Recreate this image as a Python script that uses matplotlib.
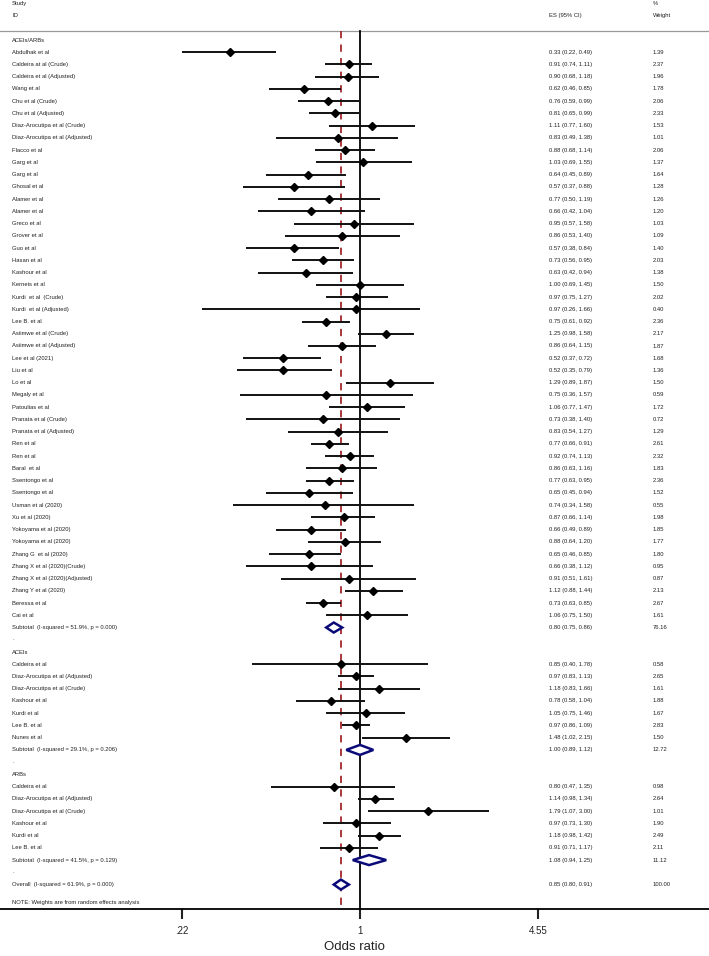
import numpy as np
import matplotlib
matplotlib.use("Agg")
import matplotlib.pyplot as plt
from matplotlib.patches import Polygon
import matplotlib.transforms as mtransforms

plt.rcParams['font.family'] = ['Liberation Sans', 'DejaVu Sans']

# ---- data ----
group_names = ["ACEIs/ARBs", "ACEIs", "ARBs"]

studies_all = ["Abdulhak et al", "Caldeira at al (Crude)", "Caldeira et al (Adjusted)", "Wang et al",
               "Chu et al (Crude)", "Chu et al (Adjusted)", "Diaz-Arocutipa et al (Crude)",
               "Diaz-Arocutipa et al (Adjusted)", "Flacco et al", "Garg et al", "Garg et al",
               "Ghosal et al", "Alamer et al", "Alamer et al", "Greco et al", "Grover et al",
               "Guo et al", "Hasan et al", "Kashour et al", "Kerneis et al", "Kurdi  et al  (Crude)",
               "Kurdi  et al (Adjusted)", "Lee B. et al", "Asiimwe et al (Crude)",
               "Asiimwe et al (Adjusted)", "Lee et al (2021)", "Liu et al", "Lo et al", "Megaly et al",
               "Patoulias et al", "Pranata et al (Crude)", "Pranata et al (Adjusted)", "Ren et al",
               "Ren et al", "Baral  et al", "Ssentongo et al", "Ssentongo et al", "Usman et al (2020)",
               "Xu et al (2020)", "Yokoyama et al (2020)", "Yokoyama et al (2020)",
               "Zhang G  et al (2020)", "Zhang X et al (2020)(Crude)", "Zhang X et al (2020)(Adjusted)",
               "Zhang Y et al (2020)", "Beressa et al", "Cai et al"]
es_all = [0.33, 0.91, 0.90, 0.62, 0.76, 0.81, 1.11, 0.83, 0.88, 1.03, 0.64, 0.57, 0.77, 0.66, 0.95,
          0.86, 0.57, 0.73, 0.63, 1.00, 0.97, 0.97, 0.75, 1.25, 0.86, 0.52, 0.52, 1.29, 0.75, 1.06,
          0.73, 0.83, 0.77, 0.92, 0.86, 0.77, 0.65, 0.74, 0.87, 0.66, 0.88, 0.65, 0.66, 0.91, 1.12,
          0.73, 1.06]
lo_all = [0.22, 0.74, 0.68, 0.46, 0.59, 0.65, 0.77, 0.49, 0.68, 0.69, 0.45, 0.37, 0.50, 0.42, 0.57,
          0.53, 0.38, 0.56, 0.42, 0.69, 0.75, 0.26, 0.61, 0.98, 0.64, 0.37, 0.35, 0.89, 0.36, 0.77,
          0.38, 0.54, 0.66, 0.74, 0.63, 0.63, 0.45, 0.34, 0.66, 0.49, 0.64, 0.46, 0.38, 0.51, 0.88,
          0.63, 0.75]
hi_all = [0.49, 1.11, 1.18, 0.85, 0.99, 0.99, 1.60, 1.38, 1.14, 1.55, 0.89, 0.88, 1.19, 1.04, 1.58,
          1.40, 0.84, 0.95, 0.94, 1.45, 1.27, 1.66, 0.92, 1.58, 1.15, 0.72, 0.79, 1.87, 1.57, 1.47,
          1.40, 1.27, 0.91, 1.13, 1.16, 0.95, 0.94, 1.58, 1.14, 0.89, 1.20, 0.85, 1.12, 1.61, 1.44,
          0.85, 1.50]
w_all = [1.39, 2.37, 1.96, 1.78, 2.06, 2.33, 1.53, 1.01, 2.06, 1.37, 1.64, 1.28, 1.26, 1.20, 1.03,
         1.09, 1.40, 2.03, 1.38, 1.50, 2.02, 0.40, 2.36, 2.17, 1.87, 1.68, 1.36, 1.50, 0.59, 1.72,
         0.72, 1.29, 2.61, 2.32, 1.83, 2.36, 1.52, 0.55, 1.98, 1.85, 1.77, 1.80, 0.95, 0.87, 2.13,
         2.67, 1.61]

studies_acei = ["Caldeira et al", "Diaz-Arocutipa et al (Adjusted)", "Diaz-Arocutipa et al (Crude)",
                "Kashour et al", "Kurdi et al", "Lee B. et al", "Nunes et al"]
es_acei = [0.85, 0.97, 1.18, 0.78, 1.05, 0.97, 1.48]
lo_acei = [0.40, 0.83, 0.83, 0.58, 0.75, 0.86, 1.02]
hi_acei = [1.78, 1.13, 1.66, 1.04, 1.46, 1.09, 2.15]
w_acei = [0.58, 2.65, 1.61, 1.88, 1.67, 2.83, 1.50]

studies_arb = ["Caldeira et al", "Diaz-Arocutipa et al (Adjusted)", "Diaz-Arocutipa et al (Crude)",
               "Kashour et al", "Kurdi et al", "Lee B. et al"]
es_arb = [0.80, 1.14, 1.79, 0.97, 1.18, 0.91]
lo_arb = [0.47, 0.98, 1.07, 0.73, 0.98, 0.71]
hi_arb = [1.35, 1.34, 3.00, 1.30, 1.42, 1.17]
w_arb = [0.98, 2.64, 1.01, 1.90, 2.49, 2.11]

sub_labels = ["Subtotal  (I-squared = 51.9%, p = 0.000)",
              "Subtotal  (I-squared = 29.1%, p = 0.206)",
              "Subtotal  (I-squared = 41.5%, p = 0.129)"]
sub_es = [0.80, 1.00, 1.08]
sub_lo = [0.75, 0.89, 0.94]
sub_hi = [0.86, 1.12, 1.25]
sub_w = [76.16, 12.72, 11.12]

overall_label = "Overall  (I-squared = 61.9%, p = 0.000)"
overall_es, overall_lo, overall_hi, overall_w = 0.85, 0.80, 0.91, 100.00

xticks = [0.22, 1, 4.55]
xtick_labels = [".22", "1", "4.55"]

groups = [
    (studies_all, es_all, lo_all, hi_all, w_all),
    (studies_acei, es_acei, lo_acei, hi_acei, w_acei),
    (studies_arb, es_arb, lo_arb, hi_arb, w_arb),
]

# ---- layout ----
W, H = 709, 956
fig = plt.figure(figsize=(W / 100, H / 100), dpi=100)
axis_y = 909
ax = fig.add_axes([0, 1 - axis_y / H, 1, axis_y / H])
ax.set_xscale('log')
ax.set_xlim(np.exp(-360 / 117.6), np.exp((W - 360) / 117.6))
ax.set_ylim(axis_y, 0)

row0, step = 40, 12.24
fs = 4.2
tcol = '#222222'
x_lab, x_es, x_w = 12 / W, 549 / W, 653 / W
trans = mtransforms.blended_transform_factory(ax.transAxes, ax.transData)

def txt(x, y, s):
    ax.text(x, y, s, transform=trans, fontsize=fs, color=tcol, va='center', ha='left')

def diamond(y, es, lo, hi):
    pts = [(lo, y), (es, y - 5), (hi, y), (es, y + 5)]
    ax.add_patch(Polygon(pts, closed=True, facecolor='white', edgecolor='#0a0a78', lw=1.8, zorder=4))

# headers
txt(x_lab, 3.5, "Study")
txt(x_lab, 15.5, "ID")
txt(x_w, 3.5, "%")
txt(x_es, 15.5, "ES (95% CI)")
txt(x_w, 15.5, "Weight")
ax.plot([0, 1], [31, 31], transform=trans, color='#999999', lw=0.9)

row = 0
for gi, (names, es, lo, hi, w) in enumerate(groups):
    if gi > 0:
        txt(x_lab, row0 + row * step - 1, ".")
        row += 1
    txt(x_lab, row0 + row * step, group_names[gi])
    row += 1
    for n, e, l, h, wt in zip(names, es, lo, hi, w):
        y = row0 + row * step
        txt(x_lab, y, n)
        ax.plot([l, h], [y, y], color='#111111', lw=1.4, zorder=3, solid_capstyle='butt')
        ax.plot([e], [y], marker='D', color='black', markersize=3.6, zorder=5)
        txt(x_es, y, f"{e:.2f} ({l:.2f}, {h:.2f})")
        txt(x_w, y, f"{wt:.2f}")
        row += 1
    y = row0 + row * step
    txt(x_lab, y, sub_labels[gi])
    diamond(y, sub_es[gi], sub_lo[gi], sub_hi[gi])
    txt(x_es, y, f"{sub_es[gi]:.2f} ({sub_lo[gi]:.2f}, {sub_hi[gi]:.2f})")
    txt(x_w, y, f"{sub_w[gi]:.2f}")
    row += 1

txt(x_lab, row0 + row * step - 1, ".")
row += 1
y = row0 + row * step
txt(x_lab, y, overall_label)
diamond(y, overall_es, overall_lo, overall_hi)
txt(x_es, y, f"{overall_es:.2f} ({overall_lo:.2f}, {overall_hi:.2f})")
txt(x_w, y, f"{overall_w:.2f}")
row += 1
txt(x_lab, row0 + (row + 0.5) * step, "NOTE: Weights are from random effects analysis")

# reference lines
ax.plot([1, 1], [31, axis_y], color='black', lw=1.3, zorder=2)
ax.plot([overall_es, overall_es], [31, axis_y], color='#a3282b', lw=1.3,
        dashes=(4, 3.5), zorder=2)

# axes styling
for s in ['top', 'left', 'right']:
    ax.spines[s].set_visible(False)
ax.spines['bottom'].set_linewidth(1.3)
ax.set_yticks([])
ax.set_xticks(xticks)
ax.set_xticklabels(xtick_labels)
ax.minorticks_off()
ax.tick_params(axis='x', length=7, width=1.5, labelsize=7, pad=5, colors='#222222')
ax.set_xlabel("Odds ratio", fontsize=9.5, labelpad=4, color='#222222')

fig.savefig("out.png", dpi=100)
